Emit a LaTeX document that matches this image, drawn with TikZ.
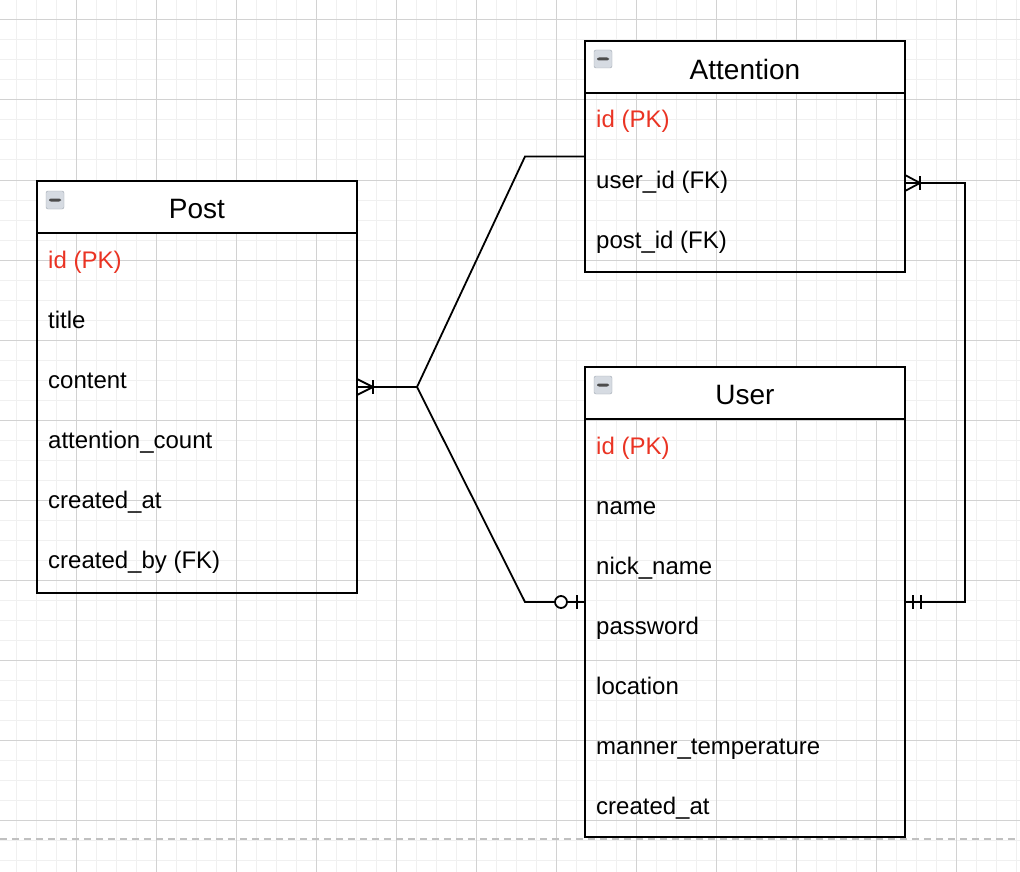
\documentclass[tikz,border=0pt]{standalone}
\usepackage{fontspec}
\setmainfont{Liberation Sans}
\usetikzlibrary{calc}

\definecolor{pkred}{RGB}{234,51,35}
\definecolor{gridminor}{RGB}{240,240,240}
\definecolor{gridmajor}{RGB}{210,210,210}
\definecolor{pagebreak}{RGB}{192,192,192}
\definecolor{togglefill}{RGB}{214,219,226}
\definecolor{toggledraw}{RGB}{160,168,178}

\tikzset{
  tablebody/.style={draw, line width=2pt, anchor=north west, minimum width=320pt, inner sep=0pt, outer sep=0pt},
  tablehead/.style={tablebody, fill=white, minimum height=52pt},
  tabletitle/.style={inner sep=0pt, font=\fontsize{28pt}{32pt}\selectfont},
  field/.style={anchor=base west, inner sep=0pt, font=\fontsize{24pt}{28pt}\selectfont},
  pkfield/.style={field, text=pkred},
  toggle/.style={draw=toggledraw, fill=togglefill, rounded corners=2pt, minimum size=18pt, inner sep=0pt,
    path picture={\fill[black!70] ($(path picture bounding box.center)+(-6,-1.5)$) rectangle ($(path picture bounding box.center)+(6,1.5)$);}},
  link/.style={line width=1.8pt}
}

\begin{document}
\begin{tikzpicture}[x=1pt,y=-1pt]
\useasboundingbox (0,0) rectangle (1020,872);
\fill[white] (0,0) rectangle (1020,872);

\foreach \gx in {16,36,...,1016} \draw[gridminor, line width=1pt] (\gx,0) -- (\gx,872);
\foreach \gy in {0,20,...,860} \draw[gridminor, line width=1pt] (0,\gy) -- (1020,\gy);
\foreach \gx in {76,156,...,1000} \draw[gridmajor, line width=1pt] (\gx,0) -- (\gx,872);
\foreach \gy in {20,100,...,820} \draw[gridmajor, line width=1pt] (0,\gy) -- (1020,\gy);
\draw[pagebreak, line width=1.5pt, dash pattern=on 7pt off 5pt] (0,839) -- (1020,839);

\node[tablebody, minimum height=412pt] (post) at (37,181) {};
\node[tablehead] (post-head) at (post.north west) {};
\node[tabletitle] (post-title) at ($(post-head.center)+(0,2)$) {Post};
\node[toggle] (post-icon) at ($(post.north west)+(18,19)$) {};
\node[pkfield] (post-0) at ($(post.north west)+(11,87)$) {id (PK)};
\foreach \f [count=\i] in {title,content,attention\_count,created\_at,{created\_by (FK)}}
  \node[field] (post-\i) at ($(post.north west)+(11,87+60*\i)$) {\f};

\node[tablebody, minimum height=231pt] (attention) at (585,41) {};
\node[tablehead] (attention-head) at (attention.north west) {};
\node[tabletitle] (attention-title) at ($(attention-head.center)+(0,2)$) {Attention};
\node[toggle] (attention-icon) at ($(attention.north west)+(18,18)$) {};
\node[pkfield] (attention-0) at ($(attention.north west)+(11,87)$) {id (PK)};
\foreach \f [count=\i] in {{user\_id (FK)},{post\_id (FK)}}
  \node[field] (attention-\i) at ($(attention.north west)+(11,87+60*\i)$) {\f};

\node[tablebody, minimum height=470pt] (user) at (585,367) {};
\node[tablehead] (user-head) at (user.north west) {};
\node[tabletitle] (user-title) at ($(user-head.center)+(0,2)$) {User};
\node[toggle] (user-icon) at ($(user.north west)+(18,18)$) {};
\node[pkfield] (user-0) at ($(user.north west)+(11,87)$) {id (PK)};
\foreach \f [count=\i] in {name,nick\_name,password,location,manner\_temperature,created\_at}
  \node[field] (user-\i) at ($(user.north west)+(11,87+60*\i)$) {\f};

\coordinate (fork) at ($(post.east)+(60,0)$);
\coordinate (attention-out) at ($(attention.north east)+(0,142)$);
\draw[link] (post.east) -- (fork) -- ($(attention.west)+(-60,0)$) -- (attention.west);
\draw[link] (fork) -- ($(user.west)+(-60,0)$) -- (user.west);
\draw[link] (attention-out) -- ++(60,0) |- (user.east);

\begin{scope}[shift={(post.east)}]
\draw[link] (0,-8) -- (16,0) -- (0,8);
\draw[link] (16,-7) -- (16,7);
\end{scope}
\begin{scope}[shift={(attention-out)}]
\draw[link] (0,-8) -- (15,0) -- (0,8);
\draw[link] (15,-7) -- (15,7);
\end{scope}
\begin{scope}[shift={(user.west)}]
\draw[link, fill=white] (-24,0) circle (6);
\draw[link] (-8,-7) -- (-8,7);
\end{scope}
\begin{scope}[shift={(user.east)}]
\draw[link] (8,-7) -- (8,7);
\draw[link] (16,-7) -- (16,7);
\end{scope}
\end{tikzpicture}
\end{document}
